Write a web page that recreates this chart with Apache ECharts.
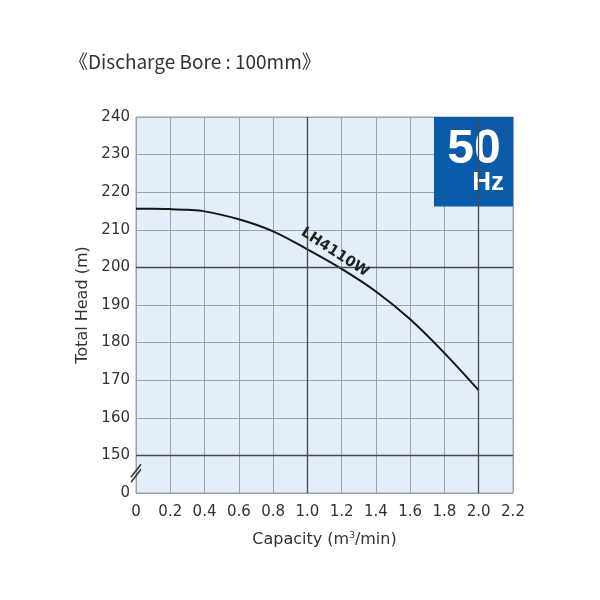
<!DOCTYPE html>
<html>
<head>
<meta charset="utf-8">
<script src="https://cdn.jsdelivr.net/npm/echarts@6/dist/echarts.min.js"></script>
<style>html,body{margin:0;padding:0;background:#fff;}#c{width:600px;height:600px;}</style>
</head>
<body>
<div id="c"></div>
<script>
var capacity = [0, 0.1, 0.2, 0.3, 0.4, 0.6, 0.8, 1.0, 1.2, 1.4, 1.6, 1.8, 2.0];
var head = [215.6, 215.6, 215.5, 215.3, 214.9, 212.8, 209.6, 204.8, 199.6, 193.6, 186.2, 177.2, 167.3];
var seriesName = 'LH4110W';
var yBreakLabel = {140: '0'};
var majorX = [1.0, 2.0];
var majorY = [150, 200];

var chart = echarts.init(document.getElementById('c'));
var pts = capacity.map(function (x, i) { return [x, head[i]]; });
var font = '"DejaVu Sans", "Liberation Sans", Arial, sans-serif';

var option = {
  animation: false,
  title: {
    text: '《Discharge Bore : 100mm》',
    left: 64, top: 47,
    textStyle: { fontFamily: '"Noto Sans CJK JP", "Open Sans", sans-serif', fontSize: 19, fontWeight: 'normal', color: '#333' }
  },
  grid: { left: 136, right: 87, top: 117, bottom: 107, show: true, backgroundColor: '#e4eef8', borderColor: '#9aa3ad', borderWidth: 1 },
  xAxis: {
    type: 'value', min: 0, max: 2.2, interval: 0.2,
    name: '{a|Capacity (m}{s|3}{a|/min)}', nameLocation: 'middle', nameGap: 38,
    nameTextStyle: { rich: { a: { fontFamily: font, fontSize: 16, color: '#333' }, s: { fontFamily: font, fontSize: 9, color: '#333', verticalAlign: 'top', padding: [0, 0, 9, 0] } } },
    axisLine: { show: false }, axisTick: { show: false },
    axisLabel: { margin: 12, fontFamily: font, fontSize: 15, color: '#333', formatter: function (v) { return v === 0 ? '0' : v.toFixed(1); } },
    splitLine: { show: true, lineStyle: { color: '#9aa3ad', width: 1 } }
  },
  yAxis: {
    type: 'value', min: 140, max: 240, interval: 10,
    name: 'Total Head (m)', nameLocation: 'middle', nameGap: 38,
    nameTextStyle: { fontFamily: font, fontSize: 16, color: '#333' },
    axisLine: { show: false }, axisTick: { show: false },
    axisLabel: { margin: 6, fontFamily: font, fontSize: 15, color: '#333', formatter: function (v) { return yBreakLabel[v] !== undefined ? yBreakLabel[v] : String(v); } },
    splitLine: { show: true, lineStyle: { color: '#9aa3ad', width: 1 } }
  },
  series: [{
    name: seriesName, type: 'line', data: pts, smooth: 0.35, symbol: 'none',
    lineStyle: { color: '#151515', width: 2 },
    markLine: {
      silent: true, symbol: 'none', label: { show: false },
      lineStyle: { color: '#454a50', width: 1.3, type: 'solid' },
      data: majorX.map(function (v) { return { xAxis: v }; }).concat(majorY.map(function (v) { return { yAxis: v }; }))
    },
    markPoint: {
      symbol: 'circle', symbolSize: 1, silent: true,
      itemStyle: { color: 'rgba(0,0,0,0)' },
      data: [{ coord: [1.16, 204.0], value: seriesName }],
      label: { show: true, position: 'inside', formatter: seriesName, rotate: -33, fontFamily: font, fontSize: 14.5, fontWeight: 'bold', color: '#222' }
    }
  }]
};
chart.setOption(option);

function drawExtras() {
  var p = chart.convertToPixel({ gridIndex: 0 }, [0, 145]);
  var box = chart.convertToPixel({ gridIndex: 0 }, [2.2, 240]);
  var boxBottom = chart.convertToPixel({ gridIndex: 0 }, [2.2, 216.2]);
  chart.setOption({
    graphic: [
      { type: 'line', shape: { x1: p[0] - 5, y1: p[1] + 3, x2: p[0] + 5, y2: p[1] - 10 }, style: { stroke: '#333', lineWidth: 1.5 } },
      { type: 'line', shape: { x1: p[0] - 5, y1: p[1] + 8, x2: p[0] + 5, y2: p[1] - 5 }, style: { stroke: '#333', lineWidth: 1.5 } },
      { type: 'rect', shape: { x: box[0] - 79, y: box[1], width: 79, height: boxBottom[1] - box[1] }, style: { fill: '#0b5bab' } },
      { type: 'text', x: box[0] - 39, y: box[1] + 33, style: { text: '50', fill: '#fff', font: 'bold 48px "Liberation Sans", Arial, sans-serif', align: 'center', verticalAlign: 'middle' } },
      { type: 'text', x: box[0] - 9, y: box[1] + 66, style: { text: 'Hz', fill: '#fff', font: 'bold 26px "Liberation Sans", Arial, sans-serif', align: 'right', verticalAlign: 'middle' } }
    ]
  });
}
drawExtras();
</script>
</body>
</html>
